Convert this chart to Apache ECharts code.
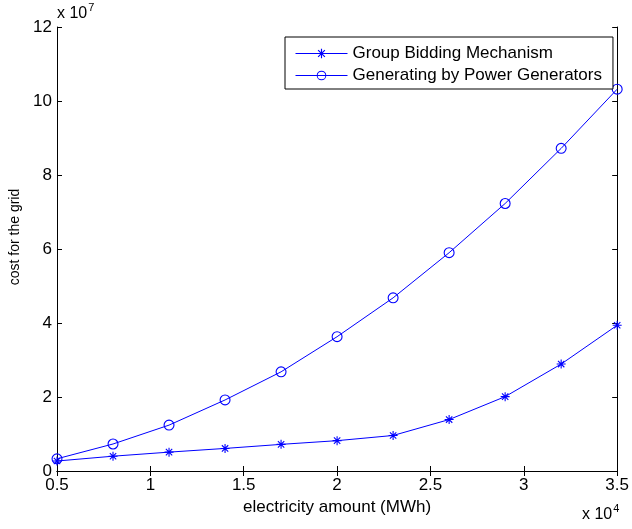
<!DOCTYPE html>
<html>
<head>
<meta charset="utf-8">
<script src="https://cdn.jsdelivr.net/npm/echarts@6/dist/echarts.min.js"></script>
<style>
  html, body { margin: 0; padding: 0; background: #fff; }
  #chart { width: 632px; height: 529px; }
</style>
</head>
<body>
<div id="chart"></div>
<script>
// electricity amount, x 10^4 MWh
var amounts = [0.5, 0.8, 1.1, 1.4, 1.7, 2.0, 2.3, 2.6, 2.9, 3.2, 3.5];
// cost for the grid, x 10^7
var groupBidding = [0.27, 0.40, 0.51, 0.61, 0.72, 0.82, 0.96, 1.39, 2.01, 2.89, 3.94];
var powerGenerators = [0.33, 0.73, 1.24, 1.92, 2.68, 3.63, 4.68, 5.90, 7.23, 8.72, 10.32];
var seriesNames = ["Group Bidding Mechanism", "Generating by Power Generators"];

// asterisk marker (+ and x overlaid), filled thin spokes
var asterisk = "path://M1,0.12L1,-0.12L-1,-0.12L-1,0.12Z" +
  "M-0.12,1L0.12,1L0.12,-1L-0.12,-1Z" +
  "M0.622,0.792L0.792,0.622L-0.622,-0.792L-0.792,-0.622Z" +
  "M-0.792,0.622L-0.622,0.792L0.792,-0.622L0.622,-0.792Z";
// open circle as a thin ring, line stays visible inside (like matlab 'o')
var ring = "path://M-1,0A1,1 0 1,0 1,0A1,1 0 1,0 -1,0Z" +
  "M-0.8,0A0.8,0.8 0 1,1 0.8,0A0.8,0.8 0 1,1 -0.8,0Z";

function pairs(xs, ys) {
  var out = [];
  xs.forEach(function (x, i) { out.push([x, ys[i]]); });
  return out;
}

var myChart = echarts.init(document.getElementById("chart"));
var font = "Liberation Sans, Arial, Helvetica, sans-serif";

var baseAxis = {
  type: "value",
  axisLine: { show: true, lineStyle: { color: "#000", width: 1 } },
  axisTick: { show: true, inside: true, length: 5, lineStyle: { color: "#000" } },
  splitLine: { show: false }
};

var multRich = {
  b: { fontSize: 16, fontFamily: font, color: "#000" },
  s: { fontSize: 11, fontFamily: font, color: "#000", verticalAlign: "top", padding: [0, 0, 12, 1] }
};

var option = {
  animation: false,
  backgroundColor: "#fff",
  grid: { left: 57, right: 12, top: 27, bottom: 58 },
  xAxis: [
    Object.assign({}, baseAxis, {
      position: "bottom",
      min: 0.5, max: 3.5, interval: 0.5,
      axisLabel: { color: "#000", fontSize: 17, fontFamily: font, margin: 6 },
      name: "electricity amount (MWh)",
      nameLocation: "middle",
      nameGap: 22,
      nameTextStyle: { color: "#000", fontSize: 17, fontFamily: font, verticalAlign: "top" }
    }),
    Object.assign({}, baseAxis, {
      position: "top",
      min: 0.5, max: 3.5, interval: 0.5,
      axisLabel: { show: false }
    })
  ],
  yAxis: [
    Object.assign({}, baseAxis, {
      position: "left",
      min: 0, max: 12, interval: 2,
      axisLabel: { color: "#000", fontSize: 17, fontFamily: font, margin: 5 }
    }),
    Object.assign({}, baseAxis, {
      position: "right",
      min: 0, max: 12, interval: 2,
      axisLabel: { show: false }
    })
  ],
  legend: {
    orient: "vertical",
    left: 285,
    top: 37,
    padding: [8, 11, 5, 10],
    itemWidth: 52,
    itemHeight: 12,
    itemGap: 5,
    borderColor: "#000",
    borderWidth: 1,
    backgroundColor: "#fff",
    lineStyle: { width: 1 },
    textStyle: { color: "#000", fontSize: 17, fontFamily: font, lineHeight: 17 },
    data: seriesNames
  },
  graphic: [
    {
      type: "text",
      left: 57, top: 2,
      style: { text: "{b|x 10}{s|7}", rich: multRich }
    },
    {
      type: "text",
      left: 582, top: 503,
      style: { text: "{b|x 10}{s|4}", rich: multRich }
    },
    {
      type: "text",
      x: 15, y: 237,
      rotation: Math.PI / 2,
      style: {
        text: "cost for the grid",
        fontSize: 14, fontFamily: font, fill: "#000",
        align: "center", verticalAlign: "middle"
      }
    }
  ],
  series: [
    {
      name: seriesNames[0],
      type: "line",
      data: pairs(amounts, groupBidding),
      symbol: asterisk,
      symbolSize: 9,
      clip: false,
      itemStyle: { color: "#0000ff" },
      lineStyle: { color: "#0000ff", width: 1 }
    },
    {
      name: seriesNames[1],
      type: "line",
      data: pairs(amounts, powerGenerators),
      symbol: ring,
      symbolSize: 11,
      clip: false,
      itemStyle: { color: "#0000ff" },
      lineStyle: { color: "#0000ff", width: 1 }
    }
  ]
};

myChart.setOption(option, true);
</script>
</body>
</html>
